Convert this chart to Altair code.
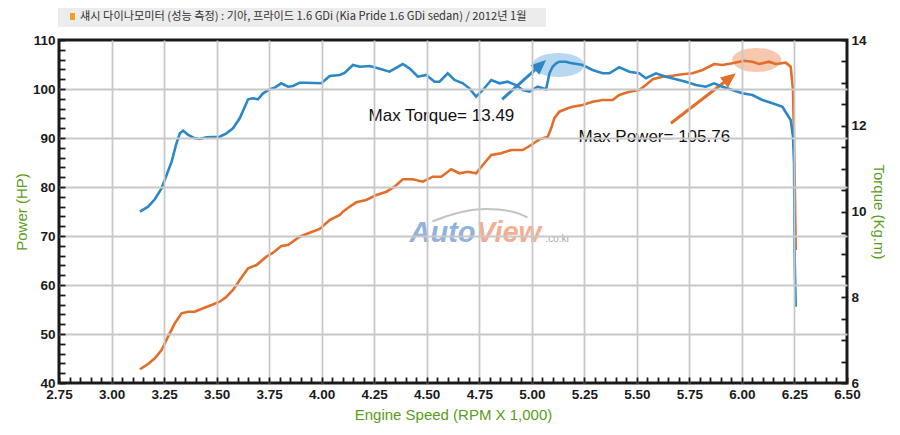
import math
import altair as alt
import pandas as pd

# ---------------- data ----------------
torque_rpm = [3.135, 3.174, 3.206, 3.238, 3.262, 3.286, 3.309, 3.325, 3.341, 3.365,
              3.396, 3.420, 3.452, 3.515, 3.547, 3.578, 3.610, 3.650, 3.673, 3.697,
              3.721, 3.753, 3.777, 3.808, 3.840, 3.864, 3.895, 3.927, 3.999, 4.038,
              4.086, 4.109, 4.149, 4.181, 4.228, 4.268, 4.323, 4.386, 4.418, 4.458,
              4.498, 4.537, 4.561, 4.600, 4.632, 4.672, 4.703, 4.735, 4.767, 4.807,
              4.846, 4.886, 4.925, 4.957, 4.989, 5.028, 5.068, 5.084, 5.099, 5.116,
              5.131, 5.163, 5.179, 5.242, 5.289, 5.337, 5.369, 5.416, 5.464, 5.511,
              5.543, 5.591, 5.638, 5.686, 5.733, 5.781, 5.828, 5.868, 5.907, 5.955,
              6.002, 6.050, 6.097, 6.145, 6.193, 6.210, 6.232, 6.243, 6.248, 6.251,
              6.256]
torque_kgm = [9.995, 10.112, 10.285, 10.541, 10.851, 11.162, 11.591, 11.824, 11.885, 11.784,
              11.707, 11.691, 11.731, 11.745, 11.824, 11.941, 12.174, 12.617, 12.640, 12.617,
              12.757, 12.850, 12.888, 12.990, 12.911, 12.927, 13.004, 13.004, 12.990, 13.160,
              13.184, 13.230, 13.417, 13.377, 13.394, 13.340, 13.261, 13.440, 13.340, 13.144,
              13.184, 13.027, 13.027, 13.223, 13.067, 12.990, 12.873, 12.678, 12.834, 13.067,
              12.990, 13.027, 12.950, 12.834, 12.794, 12.911, 12.850, 13.223, 13.377, 13.457,
              13.494, 13.494, 13.471, 13.417, 13.300, 13.223, 13.223, 13.363, 13.261, 13.223,
              13.107, 13.223, 13.144, 13.083, 13.027, 12.950, 12.911, 12.990, 12.911, 12.834,
              12.757, 12.717, 12.601, 12.524, 12.444, 12.304, 12.134, 11.745, 11.124, 8.869,
              7.780]

power_rpm = [3.135, 3.174, 3.206, 3.238, 3.269, 3.301, 3.333, 3.365, 3.396, 3.436,
             3.476, 3.515, 3.547, 3.578, 3.610, 3.650, 3.690, 3.737, 3.769, 3.808,
             3.840, 3.895, 3.943, 3.991, 4.038, 4.086, 4.101, 4.133, 4.165, 4.212,
             4.260, 4.308, 4.347, 4.386, 4.434, 4.481, 4.529, 4.569, 4.616, 4.656,
             4.695, 4.735, 4.767, 4.807, 4.854, 4.902, 4.957, 4.997, 5.036, 5.076,
             5.092, 5.107, 5.131, 5.171, 5.194, 5.242, 5.289, 5.337, 5.385, 5.416,
             5.464, 5.511, 5.543, 5.575, 5.622, 5.670, 5.717, 5.765, 5.812, 5.868,
             5.907, 5.955, 6.011, 6.050, 6.082, 6.129, 6.161, 6.209, 6.232, 6.243,
             6.248, 6.253, 6.256]
power_hp = [42.80, 43.88, 45.04, 46.73, 49.45, 52.18, 54.22, 54.55, 54.55, 55.24,
            55.92, 56.59, 57.61, 58.98, 61.02, 63.41, 64.08, 65.78, 66.59, 67.96,
            68.16, 69.86, 70.67, 71.43, 73.27, 74.29, 74.96, 75.98, 76.88, 77.35,
            78.37, 79.04, 80.06, 81.57, 81.57, 81.08, 82.10, 82.10, 83.61, 82.80,
            83.12, 82.80, 84.49, 86.53, 86.88, 87.55, 87.55, 88.57, 89.73, 90.27,
            91.98, 94.02, 95.37, 96.06, 96.39, 96.73, 97.41, 97.76, 97.76, 98.78,
            99.45, 99.80, 100.82, 101.98, 102.51, 102.71, 103.00, 103.20, 103.88, 105.10,
            104.90, 105.24, 105.76, 105.57, 105.10, 105.57, 105.10, 105.37, 104.55, 99.80,
            89.59, 75.98, 67.14]

x_major_labels = [2.75, 3.00, 3.25, 3.50, 3.75, 4.00, 4.25, 4.50, 4.75, 5.00, 5.25, 5.50, 5.75, 6.00, 6.25, 6.50]
power_labels = [40, 50, 60, 70, 80, 90, 100, 110]
torque_labels = [6, 8, 10, 12, 14]

title_text = "섀시 다이나모미터 (성능 측정) : 기아, 프라이드 1.6 GDi (Kia Pride 1.6 GDi sedan) / 2012년 1월"
torque_note = "Max Torque= 13.49"
power_note = "Max Power= 105.76"

# annotation anchors (data coordinates)
tq_mark = {"rpm": 5.126, "tq": 13.417}
pw_mark = {"rpm": 6.070, "hp": 105.92}
tq_arrow = {"rpm": 4.859, "tq": 12.617, "rpm2": 5.047, "tq2": 13.441, "rpm_tip": 5.068, "tq_tip": 13.534}
pw_arrow = {"rpm": 5.662, "hp": 93.0, "rpm2": 5.948, "hp2": 102.45, "rpm_tip": 5.971, "hp_tip": 103.2}
tq_note_pos = {"rpm": 4.570, "hp": 94.49}
pw_note_pos = {"rpm": 5.583, "hp": 90.27}

# ---------------- styles ----------------
BLUE = "#2b87c6"
ORANGE = "#e26e2a"
GREEN = "#5a9c1c"
TICK_FONT = "Liberation Sans, sans-serif"
TEXT_FONT = "Liberation Sans, sans-serif"

x_ticks = [round(x_major_labels[0] + 0.05 * i, 2) for i in range(76)]
p_ticks = list(range(power_labels[0], power_labels[-1] + 1, 2))
t_ticks = [torque_labels[0] + 0.5 * i for i in range(17)]

x_scale = alt.Scale(domain=[x_major_labels[0], x_major_labels[-1]], nice=False, zero=False)
p_scale = alt.Scale(domain=[power_labels[0], power_labels[-1]], nice=False, zero=False)
t_scale = alt.Scale(domain=[torque_labels[0], torque_labels[-1]], nice=False, zero=False)

common_axis = dict(
    ticks=True, tickSize=6, offset=-6, domain=False, tickColor="#1a1a1a", tickWidth=1.8,
    tickOpacity=1, zindex=1,
    labelPadding=4, labelFont=TICK_FONT, labelFontSize=13.5, labelFontWeight="bold",
    labelColor="#1a1a1a", labelOverlap=False, labelFlush=False,
    titleColor=GREEN, titleFont=TEXT_FONT, titleFontSize=15, titleFontWeight="normal",
)

x_axis = alt.Axis(
    values=x_ticks,
    labelExpr="round(datum.value*100) % 25 == 0 ? format(datum.value, '.2f') : ''",
    grid=True, gridColor="#c8c8c8", gridWidth=1.8,
    gridOpacity={"condition": {"test": "round(datum.value*100) % 25 == 0 && datum.value > 2.8 && datum.value < 6.45", "value": 1}, "value": 0},
    title="Engine Speed (RPM X 1,000)", titlePadding=7, **common_axis)

p_axis = alt.Axis(
    orient="left", values=p_ticks,
    labelExpr="datum.value % 10 == 0 ? format(datum.value, 'd') : ''",
    grid=True, gridColor="#c8c8c8", gridWidth=1.8,
    gridOpacity={"condition": {"test": "datum.value % 10 == 0 && datum.value > 40 && datum.value < 110", "value": 1}, "value": 0},
    title="Power (HP)", titlePadding=3, **common_axis)

t_axis = alt.Axis(
    orient="right", values=t_ticks,
    labelExpr="datum.value % 2 == 0 ? format(datum.value, 'd') : ''",
    grid=False, title="Torque (Kg.m)", titleAngle=90, titlePadding=4, **common_axis)


def X(field="rpm"):
    return alt.X(f"{field}:Q", scale=x_scale, axis=x_axis)


def YP(field="hp"):
    return alt.Y(f"{field}:Q", scale=p_scale, axis=p_axis)


def YT(field="tq"):
    return alt.Y(f"{field}:Q", scale=t_scale, axis=t_axis)


def ellipse_path(ry, n=40):
    pts = [(math.cos(2 * math.pi * k / n), ry * math.sin(2 * math.pi * k / n)) for k in range(n)]
    return "M " + " L ".join(f"{a:.3f} {b:.3f}" for a, b in pts) + " Z"


ARROW_HEAD = "M 0 0 L 0.65 1.5 L -0.65 1.5 Z"

power_df = pd.DataFrame({"rpm": power_rpm, "hp": power_hp})
torque_df = pd.DataFrame({"rpm": torque_rpm, "tq": torque_kgm})
one = pd.DataFrame({"k": [0]})

# ---------------- power (left axis) layer ----------------
pw_ellipse = alt.Chart(pd.DataFrame([pw_mark])).mark_point(
    shape=ellipse_path(0.49), size=2401, filled=True, color="#f3b595", opacity=0.75, strokeWidth=0
).encode(x=X(), y=YP())

wm_auto = alt.Chart(pd.DataFrame({"rpm": [4.418], "hp": [68.84]})).mark_text(
    text="Auto", align="left", baseline="alphabetic", font=TEXT_FONT, fontSize=29,
    fontStyle="italic", fontWeight="bold", color="#80a4d6", opacity=0.85
).encode(x=X(), y=YP())
wm_view = alt.Chart(pd.DataFrame({"rpm": [4.735], "hp": [68.84]})).mark_text(
    text="View", align="left", baseline="alphabetic", font=TEXT_FONT, fontSize=29,
    fontStyle="italic", fontWeight="bold", color="#f2a07e", opacity=0.85
).encode(x=X(), y=YP())
wm_dom = alt.Chart(pd.DataFrame({"rpm": [5.065], "hp": [68.84]})).mark_text(
    text=".co.kr", align="left", baseline="alphabetic", font=TEXT_FONT, fontSize=10,
    color="#a0a0a0", opacity=0.9
).encode(x=X(), y=YP())
wm_swoosh = alt.Chart(pd.DataFrame({"rpm": [4.765], "hp": [74.29]})).mark_point(
    shape="M -1 0.13 Q -0.4 -0.12 0.07 -0.12 Q 0.6 -0.12 0.9 0.05", size=10000,
    filled=False, color="#bdbdbd", strokeWidth=2, opacity=0.9
).encode(x=X(), y=YP())

power_line = alt.Chart(power_df).mark_line(color=ORANGE, strokeWidth=2.6).encode(x=X(), y=YP())

pw_shaft = alt.Chart(pd.DataFrame([pw_arrow])).mark_rule(color=ORANGE, strokeWidth=3).encode(
    x=X(), y=YP(), x2="rpm2:Q", y2="hp2:Q")
pw_head = alt.Chart(pd.DataFrame([pw_arrow])).mark_point(
    shape=ARROW_HEAD, size=400, angle=52, filled=True, color=ORANGE, opacity=1, strokeWidth=0
).encode(x=X("rpm_tip"), y=YP("hp_tip"))

notes_df = pd.DataFrame({
    "rpm": [tq_note_pos["rpm"], pw_note_pos["rpm"]],
    "hp": [tq_note_pos["hp"], pw_note_pos["hp"]],
    "label": [torque_note, power_note],
})
notes = alt.Chart(notes_df).mark_text(
    align="center", baseline="middle", font=TEXT_FONT, fontSize=17, color="#111111"
).encode(x=X(), y=YP(), text="label:N")

band = alt.Chart(one).mark_rect(color="#ececec").encode(
    x=alt.value(-1), x2=alt.value(487), y=alt.value(-32), y2=alt.value(-13))
square = alt.Chart(one).mark_rect(color="#f0a01e").encode(
    x=alt.value(11), x2=alt.value(16), y=alt.value(-27), y2=alt.value(-20))
title = alt.Chart(one).mark_text(
    text=title_text, align="left", baseline="middle", font="Noto Sans CJK KR",
    fontSize=11.2, color="#333333"
).encode(x=alt.value(21), y=alt.value(-23))

power_layer = alt.layer(band, square, title, pw_ellipse, wm_swoosh, wm_auto, wm_view, wm_dom,
                        power_line, pw_shaft, pw_head, notes)

# ---------------- torque (right axis) layer ----------------
tq_ellipse = alt.Chart(pd.DataFrame([tq_mark])).mark_point(
    shape=ellipse_path(0.46), size=2704, filled=True, color="#a6cdec", opacity=0.8, strokeWidth=0
).encode(x=X(), y=YT())
torque_line = alt.Chart(torque_df).mark_line(color=BLUE, strokeWidth=2.6).encode(x=X(), y=YT())
tq_shaft = alt.Chart(pd.DataFrame([tq_arrow])).mark_rule(color=BLUE, strokeWidth=3).encode(
    x=X(), y=YT(), x2="rpm2:Q", y2="tq2:Q")
tq_head = alt.Chart(pd.DataFrame([tq_arrow])).mark_point(
    shape=ARROW_HEAD, size=400, angle=48, filled=True, color=BLUE, opacity=1, strokeWidth=0
).encode(x=X("rpm_tip"), y=YT("tq_tip"))

torque_layer = alt.layer(tq_ellipse, torque_line, tq_shaft, tq_head)

chart = alt.layer(power_layer, torque_layer).resolve_scale(y="independent").properties(
    width=788, height=343,
    autosize=alt.AutoSizeParams(type="none"),
    padding={"left": 51, "top": 32, "right": 42, "bottom": 43},
    background="white",
).configure_view(stroke="#1a1a1a", strokeWidth=3)

chart.save("out.html", embed_options={"renderer": "svg", "actions": False})
